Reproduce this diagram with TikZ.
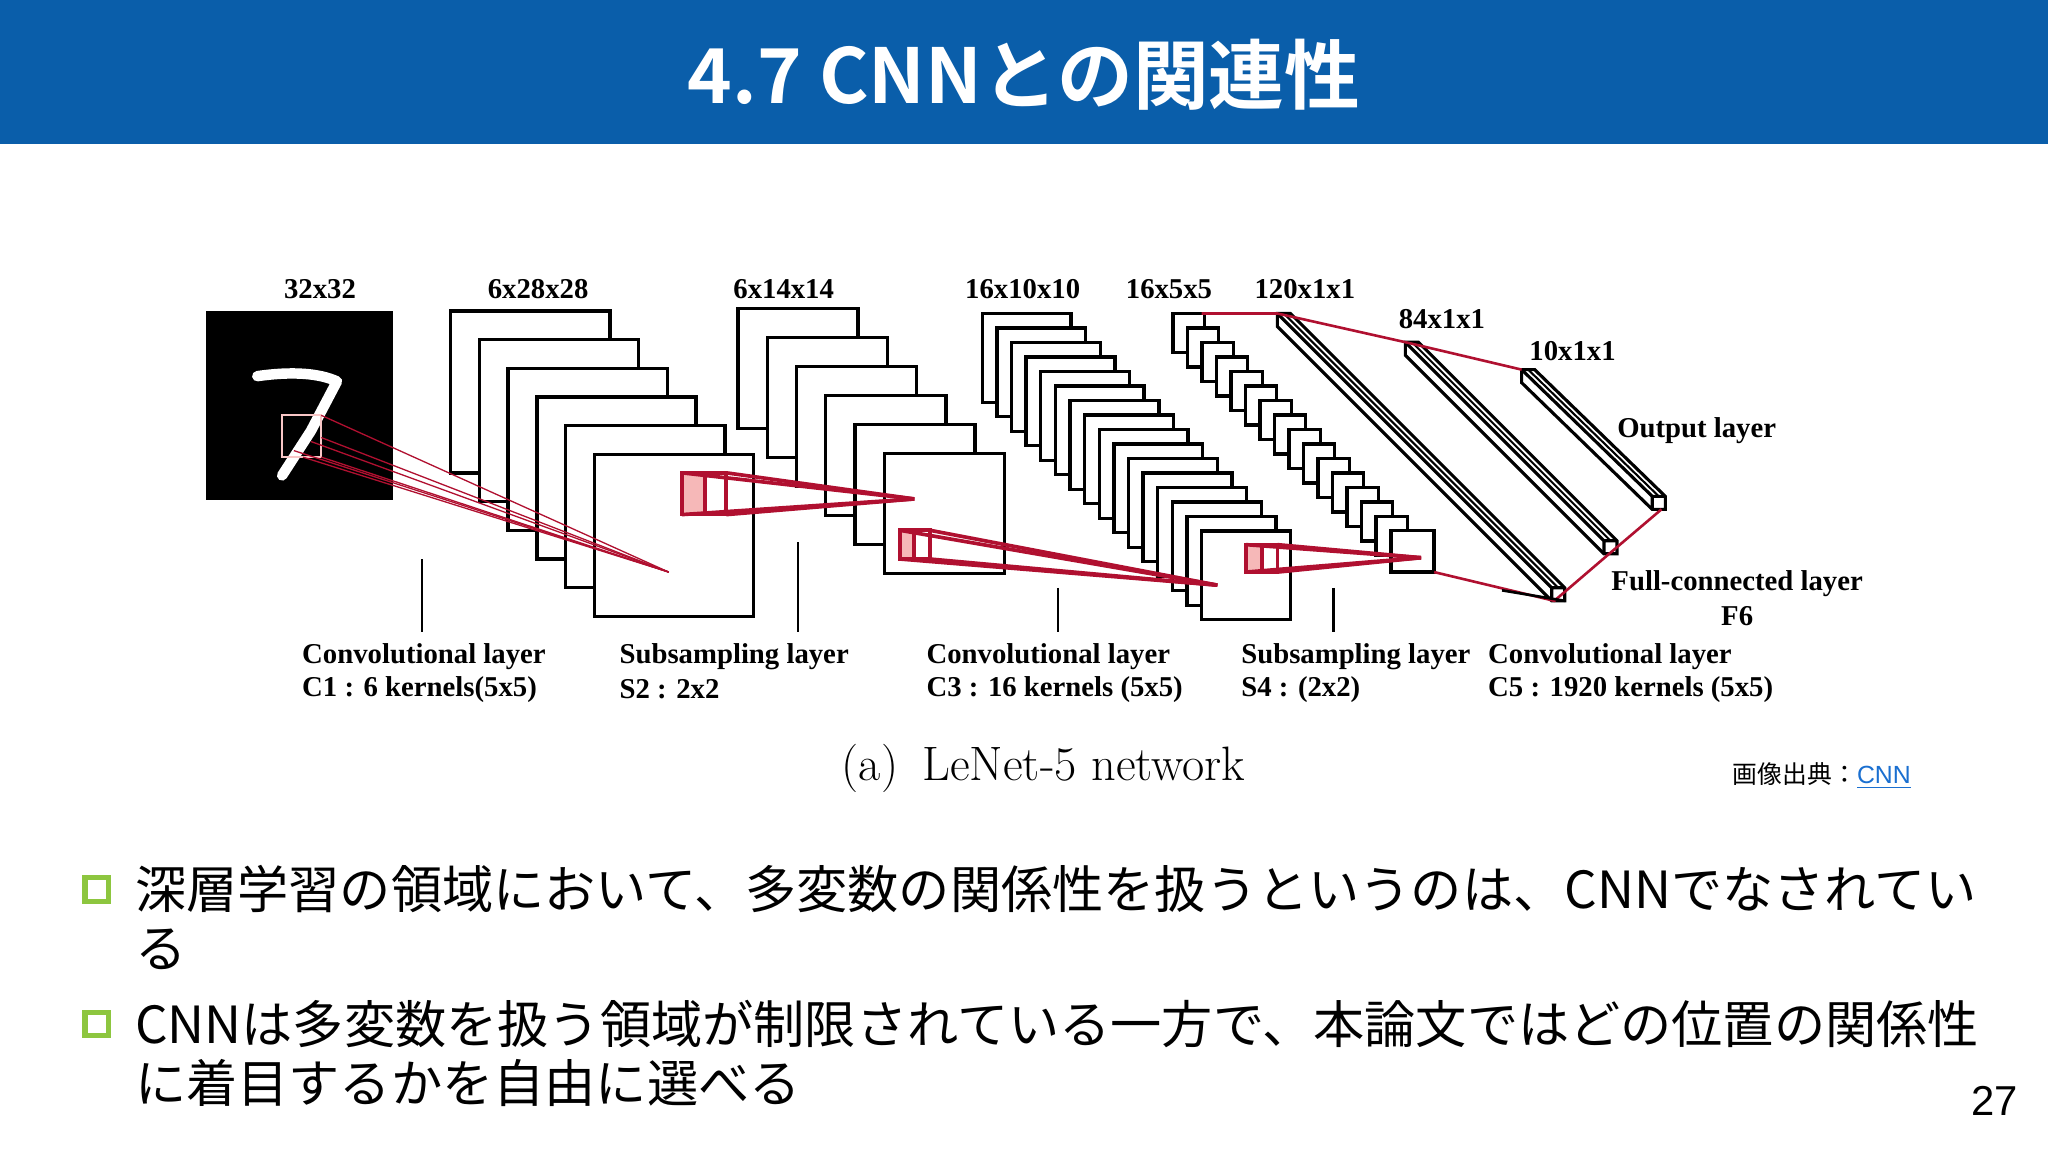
\documentclass[tikz,border=0pt]{standalone}
\usepackage{fontspec}
\setmainfont{Liberation Serif}
\newfontfamily\jp{Noto Sans CJK JP}
\newfontfamily\jpb{Noto Sans CJK JP Bold}
\newfontfamily\lsans{Liberation Sans}
\newfontfamily\lmr{Latin Modern Roman}
\definecolor{titleblue}{HTML}{0A5EAA}
\definecolor{cred}{HTML}{B01030}
\definecolor{cpink}{HTML}{F6B8B8}
\definecolor{bgreen}{HTML}{8DC63F}
\definecolor{linkblue}{HTML}{1A6FD0}
\begin{document}
\begin{tikzpicture}[x=0.5pt,y=-0.5pt,
  fmap/.style={draw=black,fill=white,line width=1.3pt},
  lbl/.style={font=\bfseries\fontsize{11}{13}\selectfont,inner sep=0pt},
  llbl/.style={lbl,anchor=west},
  redthin/.style={draw=cred,line width=0.5pt},
  redthick/.style={draw=cred,line width=1.4pt},
  ptr/.style={draw=black,line width=1pt},
  bullet/.style={draw=bgreen,line width=2pt,minimum size=9pt,inner sep=0pt},
  btxt/.style={font=\jp\fontsize{19.6}{23}\selectfont,anchor=west,inner sep=0pt}]
\useasboundingbox (0,0) rectangle (1568,882);
\fill[white] (0,0) rectangle (1568,882);
\fill[titleblue] (0,0) rectangle (1568,110);
\node[font=\jpb\fontsize{29}{34}\selectfont,text=white] (title) at (784,57) {4.7 CNNとの関連性};

% input image
\fill[black] (158,238) rectangle (301,383);
\draw[white,line width=4pt,line cap=round,line join=round] (197,288) .. controls (225,284) and (245,286) .. (258,292) -- (238,330) -- (216,364);
\draw[cpink!80!white,line width=0.8pt] (216,318) rectangle (246,350);
\node[lbl] (l0) at (245,221) {32x32};

% C1 stack
\foreach \i in {0,...,5}{\draw[fmap] (345+22*\i,238+22*\i) rectangle ++(122,124);}
\foreach \a/\b in {246/318,246/335,246/350,232/350,225/345}{\draw[redthin] (\a,\b) -- (512,438);}
\draw[redthin] (238,338) -- (512,438);
\node[lbl] (l1) at (412,221) {6x28x28};

% S2 stack
\foreach \i in {0,...,5}{\draw[fmap] (565+22.4*\i,236+22.2*\i) rectangle ++(92,92);}
\node[lbl] (l2) at (600,221) {6x14x14};
% conv box C1->S2
\fill[cpink] (522,362) rectangle (540,394);
\draw[redthick] (522,362) rectangle (540,394);
\draw[redthick] (540,362) -- (556,362) -- (556,394) -- (540,394);
\foreach \p in {(522,362),(556,362),(522,394),(556,394)}{\draw[redthick] \p -- (700,382);}

% C3 stack
\foreach \i in {0,...,15}{\draw[fmap] (752+11.2*\i,240+11.1*\i) rectangle ++(68,68);}
\node[lbl] (l3) at (783,221) {16x10x10};
% conv box S2->C3
\fill[cpink] (689,406) rectangle (700,428);
\draw[redthick] (689,406) rectangle (700,428);
\draw[redthick] (700,406) -- (712,406) -- (712,428) -- (700,428);
\foreach \p in {(689,406),(712,406),(689,428),(712,428)}{\draw[redthick] \p -- (932,448);}

% S4 stack
\foreach \i in {0,...,14}{\draw[fmap] (898+11.1*\i,240+11.1*\i) rectangle ++(24,30);}
\draw[fmap] (1065,406) rectangle (1098,438);
\node[lbl] (l4) at (895,221) {16x5x5};
% conv box C3->S4
\fill[cpink] (954,417) rectangle (966,438);
\draw[redthick] (954,417) rectangle (966,438);
\draw[redthick] (966,417) -- (978,417) -- (978,438) -- (966,438);
\foreach \p in {(954,417),(978,417),(954,438),(978,438)}{\draw[redthick] \p -- (1088,427);}

% bars
\foreach \fx/\fy/\dx/\dy in {1188/450/-210/-210, 1228/414/-152/-152, 1265/380/-100/-97}{
  \begin{scope}[shift={(\fx,\fy)}]
    \draw[black,line width=1.2pt,fill=white] (\dx,\dy) -- (10+\dx,\dy) -- (10,0) -- (10,10) -- (0,10) -- (\dx,10+\dy) -- cycle;
    \draw[black,line width=1.2pt] (0,0) -- (\dx,\dy) (0,0) -- (10,0) (0,0) -- (0,10);
    \draw[black,line width=0.8pt] (5,0) -- (5+\dx,\dy);
  \end{scope}}
\node[lbl] (l5) at (999,221) {120x1x1};
\node[lbl] (l6) at (1104,244) {84x1x1};
\node[lbl] (l7) at (1204,269) {10x1x1};
% red links
\draw[redthin,line width=1pt] (920,240) -- (978,240) -- (1076,262) -- (1165,283);
\draw[redthin,line width=1pt] (1098,438) -- (1190,460) -- (1232,424) -- (1272,390);
\draw[ptr] (1150,452) -- (1198,460);

\node[lbl] (o1) at (1299,330) {Output layer};
\node[lbl] (o2) at (1330,447) {Full-connected layer};
\node[lbl] (o3) at (1330,472) {F6};

% pointers
\draw[ptr] (323,428) -- (323,484);
\draw[ptr] (611,415) -- (611,484);
\draw[ptr] (810,450) -- (810,484);
\draw[ptr] (1021,450) -- (1021,484);

\node[llbl] (b1a) at (231,503) {Convolutional layer};
\node[llbl] (b1b) at (231,528) {C1 : 6 kernels(5x5)};
\node[llbl] (b2a) at (474,503) {Subsampling layer};
\node[llbl] (b2b) at (474,528) {S2 : 2x2};
\node[llbl] (b3a) at (709,503) {Convolutional layer};
\node[llbl] (b3b) at (709,528) {C3 : 16 kernels (5x5)};
\node[llbl] (b4a) at (950,503) {Subsampling layer};
\node[llbl] (b4b) at (950,528) {S4 : (2x2)};
\node[llbl] (b5a) at (1139,503) {Convolutional layer};
\node[llbl] (b5b) at (1139,528) {C5 : 1920 kernels (5x5)};

\node[font=\lmr\fontsize{18.5}{22}\selectfont] (cap) at (799,588) {(a)\enspace LeNet-5 network};
\node[font=\jp\fontsize{9.5}{11}\selectfont,anchor=east] (src) at (1470,594) {画像出典：\textcolor{linkblue}{\lsans\underline{CNN}}};

% bullets
\node[bullet] (q1) at (74,681) {};
\node[btxt] (t1a) at (103,681) {深層学習の領域において、多変数の関係性を扱うというのは、CNNでなされてい};
\node[btxt] (t1b) at (103,727) {る};
\node[bullet] (q2) at (74,784) {};
\node[btxt] (t2a) at (103,784) {CNNは多変数を扱う領域が制限されている一方で、本論文ではどの位置の関係性};
\node[btxt] (t2b) at (103,829) {に着目するかを自由に選べる};
\node[font=\lsans\fontsize{16}{19}\selectfont] (pg) at (1527,843) {27};
\end{tikzpicture}
\end{document}
